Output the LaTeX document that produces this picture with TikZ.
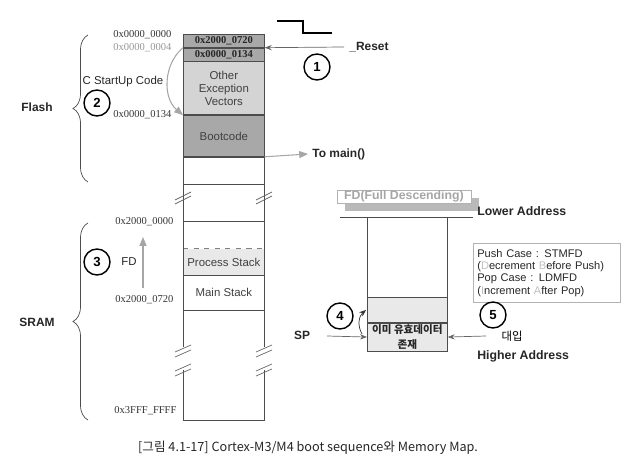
\documentclass[tikz,border=0pt]{standalone}
\usepackage{fontspec}
\setmainfont{Liberation Serif}
\setsansfont{Liberation Sans}
\newfontfamily\krfont{Noto Sans CJK KR}
\usetikzlibrary{arrows.meta,positioning,decorations.pathreplacing,shadows}
\definecolor{memdark}{RGB}{168,168,168}
\definecolor{memlight}{RGB}{212,212,212}
\definecolor{stackgray}{RGB}{233,233,233}
\definecolor{labelgray}{RGB}{150,150,150}

\begin{document}
\begin{tikzpicture}[x=0.02cm,y=-0.02cm,
  font=\sffamily\fontsize{6.5}{7.5}\selectfont,
  cell/.style={rectangle,draw=black!70,minimum width=1.62cm,inner sep=0pt,align=center,anchor=north west,text=black!75},
  hexcell/.style={cell,fill=memdark,minimum height=0.26cm,font=\rmfamily\bfseries\fontsize{6}{7}\selectfont,text=black!85},
  bare/.style={rectangle,minimum width=1.62cm,inner sep=0pt,align=center,anchor=north west,text=black!75},
  addr/.style={anchor=west,inner sep=0pt,font=\rmfamily\fontsize{6}{7}\selectfont,text=black!80},
  numcirc/.style={circle,draw,thick,minimum size=0.52cm,inner sep=0pt,font=\sffamily\bfseries\fontsize{7.5}{8}\selectfont},
  bold/.style={inner sep=0pt,font=\sffamily\bfseries\fontsize{6.8}{8}\selectfont,text=black!85},
  grayarrow/.style={draw=gray!70,-{Triangle[length=5pt,width=4pt]},line width=0.6pt},
  blackarrow/.style={draw=black!60,-{Stealth[length=4pt,width=3pt]},line width=0.4pt},
  membrace/.style={decorate,decoration={brace,amplitude=0.3cm},draw=black!70}]
  \useasboundingbox (0,0) rectangle (634,472);

  % memory map column
  \node[hexcell] (vec0) at (183,34) {0x2000\_0720};
  \node[hexcell,below=0pt of vec0] (vec1) {0x0000\_0134};
  \node[cell,fill=memlight,minimum height=1.06cm,below=0pt of vec1] (other) {Other\\Exception\\Vectors};
  \node[cell,fill=memdark,minimum height=0.82cm,below=0pt of other] (boot) {Bootcode};
  \node[cell,minimum height=0.54cm,below=0pt of boot] (free) {};
  \node[bare,minimum height=0.54cm] (sram0) at (183,221) {};
  \node[bare,fill=stackgray,minimum height=0.52cm,below=0pt of sram0] (pstack) {Process Stack};
  \node[bare,minimum height=0.68cm,below=0pt of pstack] (mstack) {Main Stack};
  \draw[black!70] (sram0.north west) -- (sram0.north east);
  \draw[black!50,dashed] (pstack.north west) -- (pstack.north east);
  \draw[black!70] (mstack.north west) -- (mstack.north east) (mstack.south west) -- (mstack.south east);
  \draw[black!70] (183,181) -- (183,347) (264,181) -- (264,347);
  \draw[black!70] (183,370) -- (183,420) -- (264,420) -- (264,370);
  \foreach \x in {183,264} {
    \draw[black!60] (\x-8,200) -- (\x+8,192) (\x-8,204) -- (\x+8,196);
    \draw[black!60] (\x-8,352) -- (\x+8,345) (\x-8,357) -- (\x+8,350);
    \draw[black!60] (\x-8,371) -- (\x+8,364) (\x-8,376) -- (\x+8,369);
  }

  % addresses
  \node[addr] (a0) at (113,35) {0x0000\_0000};
  \node[addr,text=labelgray] (a4) at (113,48) {0x0000\_0004};
  \node[addr] (a134) at (113,115) {0x0000\_0134};
  \node[addr] (s0) at (115,222) {0x2000\_0000};
  \node[addr] (s720) at (115,300) {0x2000\_0720};
  \node[addr] (send) at (114,411) {0x3FFF\_FFFF};

  % braces
  \coordinate (flashbot) at (88,182);
  \coordinate (flashtop) at (88,35);
  \coordinate (srambot) at (88,420);
  \coordinate (sramtop) at (88,223);
  \draw[membrace] (flashbot) -- (flashtop);
  \draw[membrace] (srambot) -- (sramtop);
  \node[bold] (flash) at (37,107) {Flash};
  \node[bold] (sram) at (37,322) {SRAM};

  % boot steps
  \node[numcirc] (c1) at (317,67) {1};
  \node[numcirc] (c2) at (97,103) {2};
  \node[numcirc] (c3) at (97,262) {3};
  \node[inner sep=0pt,text=black!85] (startup) at (123,82) {C StartUp Code};
  \node[inner sep=0pt,anchor=west,text=black!85] (fd) at (121,262) {FD};
  \draw[line width=0.9pt] (277,21) -- (303,21) -- (303,33) -- (332,33);
  \node[bold,anchor=west] (reset) at (349,47) {\_Reset};
  \coordinate (rstend) at (344,47);
  \draw[blackarrow] (rstend) -- (vec1.north east);
  \draw[grayarrow] (vec1.north west) to[bend right=50] (boot.north west);
  \node[bold,anchor=west] (tomain) at (312,154) {To main()};
  \coordinate (mainend) at (308,154);
  \draw[grayarrow] (boot.south east) -- (mainend);
  \coordinate (fdlo) at (143,288);
  \coordinate (fdhi) at (143,237);
  \draw[grayarrow] (fdlo) -- (fdhi);

  % full descending stack
  \node[draw=gray!60,fill=white,text=gray!70,font=\sffamily\bfseries\fontsize{7}{8}\selectfont,
    minimum width=2.68cm,minimum height=0.26cm,inner sep=0pt,
    drop shadow={shadow xshift=0.16cm,shadow yshift=-0.16cm,fill=gray!55,opacity=1}] (fdtitle) at (404,196.5) {FD(Full Descending)};
  \node[bold,anchor=west,font=\sffamily\bfseries\fontsize{7}{8}\selectfont] (lower) at (477,211) {Lower Address};
  \node[bold,anchor=west,font=\sffamily\bfseries\fontsize{7}{8}\selectfont] (higher) at (477,356) {Higher Address};
  \draw[black!70] (340,217) -- (473,217) (367,217) -- (367,297) (447,217) -- (447,297);
  \node[cell,fill=stackgray,minimum width=1.6cm,minimum height=0.5cm] (slot) at (367,297) {};
  \node[cell,fill=stackgray,minimum width=1.6cm,minimum height=0.56cm,below=0pt of slot,
    font=\krfont\bfseries\fontsize{6}{8}\selectfont,text=black!85] (valid) {이미 유효데이터\\존재};
  \node[draw=gray!60,align=left,anchor=north west,text width=2.78cm,minimum height=1.06cm,
    inner xsep=0.08cm,text=black!85,font=\sffamily\fontsize{6.3}{7}\selectfont] (pushbox) at (473,243)
    {Push Case : STMFD\\(\textcolor{gray!50}{D}ecrement \textcolor{gray!50}{B}efore Push)\\Pop Case : LDMFD\\(\textcolor{gray!50}{I}ncrement \textcolor{gray!50}{A}fter Pop)};
  \node[numcirc] (c4) at (340,316) {4};
  \node[numcirc] (c5) at (493,315) {5};
  \node[bold] (sp) at (302,335) {SP};
  \node[inner sep=0pt,font=\krfont\fontsize{6.5}{8}\selectfont] (daeip) at (512,336) {대입};
  \coordinate (spin) at (327,336);
  \coordinate (dpin) at (486,336);
  \draw[blackarrow] (spin) -- (valid.west);
  \draw[blackarrow] (dpin) -- (valid.east);
  \coordinate (c4a) at (362,334);
  \draw[blackarrow,draw=black!80] (c4a) to[bend left=40] ([xshift=-0.5pt]slot.west);

  % caption
  \node[font=\krfont\fontsize{7.2}{8}\selectfont,text=black!85] (caption) at (308,448) {[그림 4.1-17] Cortex-M3/M4 boot sequence와 Memory Map.};
\end{tikzpicture}
\end{document}
